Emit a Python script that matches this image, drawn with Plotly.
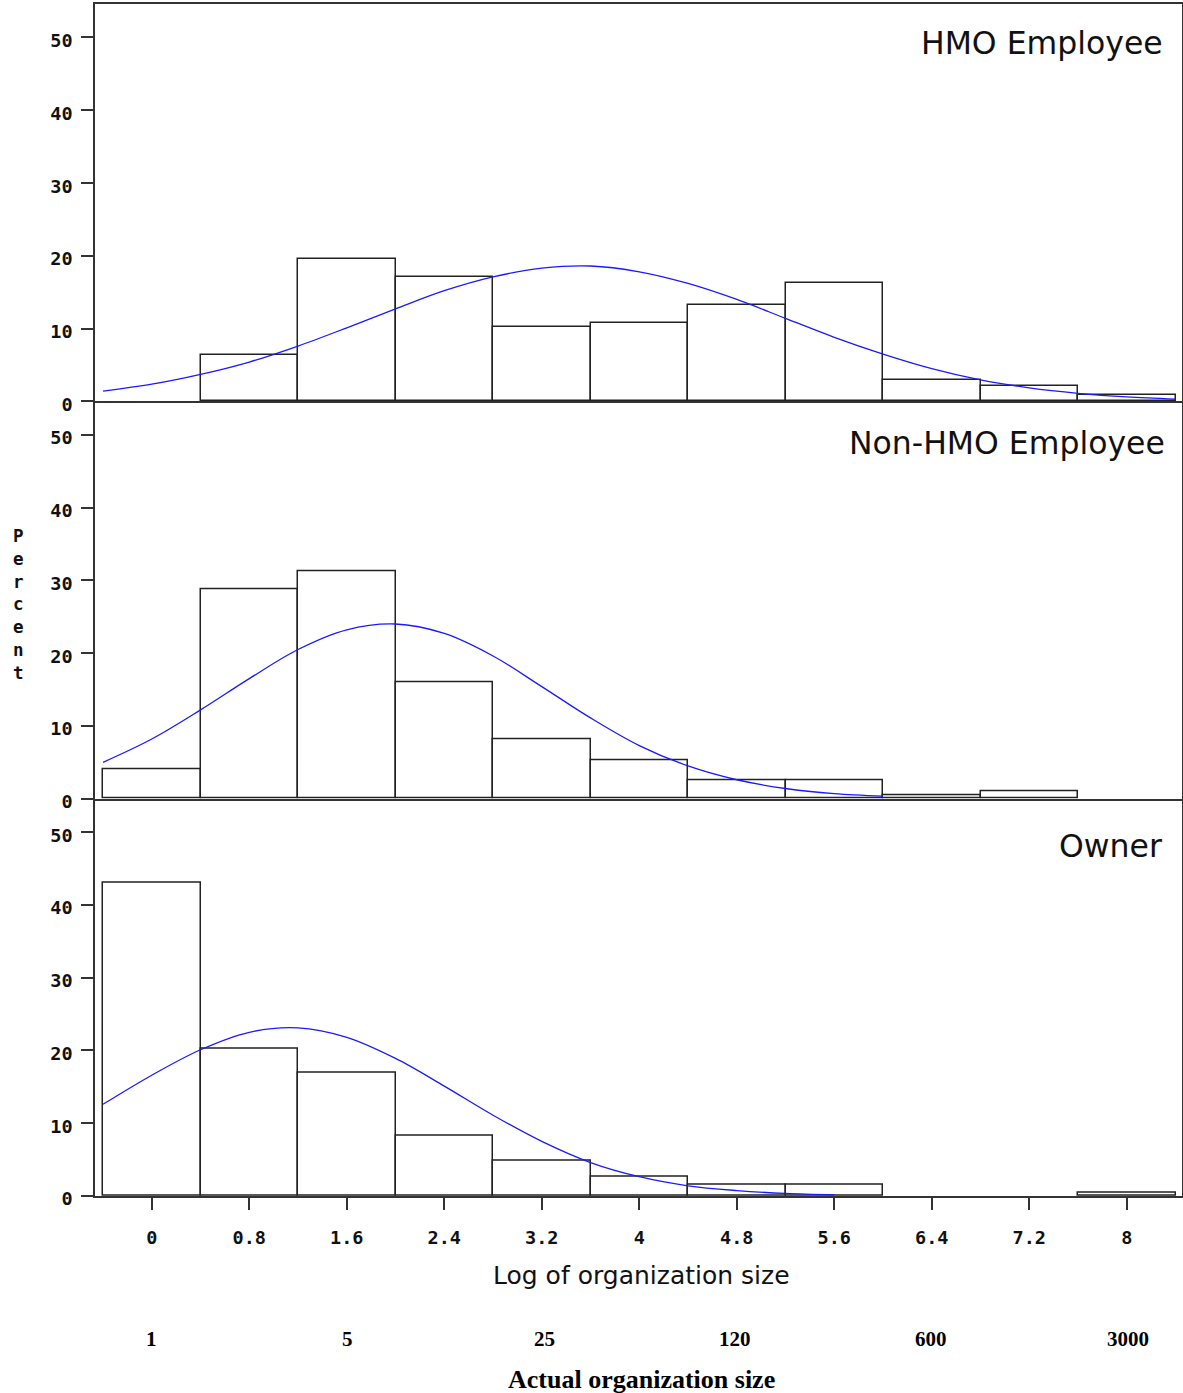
import numpy as np
import plotly.graph_objects as go
from plotly.subplots import make_subplots

# ---------------- data ----------------
bin_centers = [0.0, 0.8, 1.6, 2.4, 3.2, 4.0, 4.8, 5.6, 6.4, 7.2, 8.0]
hmo_pct = [0, 6.4, 19.6, 17.1, 10.2, 10.7, 13.2, 16.2, 3.0, 2.1, 0.9]
nonhmo_pct = [4.1, 28.8, 31.3, 16.0, 8.2, 5.2, 2.5, 2.5, 0.5, 1.0, 0]
owner_pct = [43.1, 20.2, 16.9, 8.3, 4.9, 2.6, 1.6, 1.5, 0, 0, 0.4]

hmo_curve_x = [-0.4, 0.0, 0.4, 0.8, 1.2, 1.6, 2.0, 2.4, 2.8, 3.2, 3.6, 4.0,
               4.4, 4.8, 5.2, 5.6, 6.0, 6.4, 6.8, 7.2, 7.6, 8.0, 8.4]
hmo_curve_y = [1.4, 2.35, 3.7, 5.4, 7.6, 10.1, 12.7, 15.2, 17.1, 18.3, 18.6, 17.8,
               16.2, 14.0, 11.4, 8.8, 6.5, 4.5, 2.95, 1.85, 1.1, 0.6, 0.3]

nonhmo_curve_x = [-0.4, 0.0, 0.4, 0.8, 1.2, 1.6, 2.0, 2.4, 2.8, 3.2, 3.6, 4.0,
                  4.4, 4.8, 5.2, 5.6, 6.0]
nonhmo_curve_y = [5.0, 8.2, 12.2, 16.5, 20.5, 23.2, 24.0, 22.7, 19.6, 15.4, 11.1, 7.3,
                  4.5, 2.6, 1.4, 0.7, 0.35]

owner_curve_x = [-0.4, 0.0, 0.4, 0.8, 1.2, 1.6, 2.0, 2.4, 2.8, 3.2, 3.6, 4.0,
                 4.4, 4.8, 5.2, 5.6]
owner_curve_y = [12.6, 16.6, 20.1, 22.5, 23.1, 21.8, 18.9, 15.1, 11.1, 7.5, 4.6, 2.65,
                 1.4, 0.75, 0.35, 0.15]

panel_titles = ["HMO Employee", "Non-HMO Employee", "Owner"]
x_tick_vals = [0, 0.8, 1.6, 2.4, 3.2, 4.0, 4.8, 5.6, 6.4, 7.2, 8.0]
x_tick_text = ["0", "0.8", "1.6", "2.4", "3.2", "4", "4.8", "5.6", "6.4", "7.2", "8"]
actual_sizes = [1, 5, 25, 120, 600, 3000]
x_title = "Log of organization size"
x2_title = "Actual organization size"
y_title = "Percent"

# ---------------- figure ----------------
fig = make_subplots(rows=3, cols=1, shared_xaxes=True, vertical_spacing=0)

bars = [hmo_pct, nonhmo_pct, owner_pct]
curves = [(hmo_curve_x, hmo_curve_y), (nonhmo_curve_x, nonhmo_curve_y),
          (owner_curve_x, owner_curve_y)]

for i in range(3):
    ys = [v if v > 0 else None for v in bars[i]]  # empty bins draw no box
    fig.add_trace(go.Bar(x=bin_centers, y=ys, width=0.8,
                         marker=dict(color="white", line=dict(color="#222222", width=1.5)),
                         showlegend=False), row=i + 1, col=1)
    fig.add_trace(go.Scatter(x=curves[i][0], y=curves[i][1], mode="lines",
                             line=dict(color="#1a1aff", width=1.3, shape="spline"),
                             showlegend=False), row=i + 1, col=1)

tick_font = dict(family="DejaVu Sans Mono", size=18.5, color="#111111", weight="bold")

for i in range(1, 4):
    fig.update_yaxes(range=[0, 54.6], tickvals=[0, 10, 20, 30, 40, 50],
                     ticks="outside", ticklen=12, tickwidth=1.5, tickcolor="#333333",
                     showline=True, linecolor="#333333", linewidth=1.5, mirror=True,
                     showgrid=False, zeroline=False, tickfont=tick_font,
                     ticklabelstandoff=5, ticklabelshift=3, automargin=False,
                     row=i, col=1)
    fig.update_xaxes(range=[-0.466, 8.453], showline=True, linecolor="#333333",
                     linewidth=1.5, mirror=(i == 1), showgrid=False, zeroline=False,
                     automargin=False, row=i, col=1)

fig.update_xaxes(tickvals=x_tick_vals, ticktext=x_tick_text, ticks="outside",
                 ticklen=12, tickwidth=1.5, tickcolor="#333333", tickfont=tick_font,
                 showticklabels=True, ticklabelstandoff=12, row=3, col=1)

annotations = []
title_pos = [(0.9845, 0.9670), (0.9862, 0.6314), (0.9836, 0.2939)]
for t, (px, py) in zip(panel_titles, title_pos):
    annotations.append(dict(text=t, xref="paper", yref="paper", x=px, y=py,
                            xanchor="right", yanchor="middle", showarrow=False,
                            font=dict(family="DejaVu Sans", size=31.5, color="#111111")))

annotations.append(dict(text=x_title, xref="paper", yref="paper", x=0.5023, y=-0.0671,
                        xanchor="center", yanchor="middle", showarrow=False,
                        font=dict(family="DejaVu Sans", size=25, color="#111111")))

for s in actual_sizes:
    annotations.append(dict(text=str(s), xref="x3", yref="paper", x=float(np.log(s)),
                            y=-0.1203, xanchor="center", yanchor="middle", showarrow=False,
                            font=dict(family="Liberation Serif", size=21, color="black",
                                      weight="bold")))

annotations.append(dict(text=x2_title, xref="paper", yref="paper", x=0.5023, y=-0.1537,
                        xanchor="center", yanchor="middle", showarrow=False,
                        font=dict(family="Liberation Serif", size=26, color="black",
                                  weight="bold")))

annotations.append(dict(text="<br>".join(list(y_title)), xref="paper", yref="paper",
                        x=-0.0708, y=0.4966, xanchor="center", yanchor="middle",
                        showarrow=False, align="center",
                        font=dict(family="DejaVu Sans Mono", size=17.5, color="#111111",
                                  weight="bold")))

fig.update_layout(width=1183, height=1393, plot_bgcolor="white", paper_bgcolor="white",
                  margin=dict(l=95, r=1, t=4, b=197, autoexpand=False), bargap=0,
                  annotations=annotations, hovermode=False)

fig.write_html("out.html", config={"displayModeBar": False},
               post_script="document.body.style.margin='0';document.body.style.overflow='hidden';")
